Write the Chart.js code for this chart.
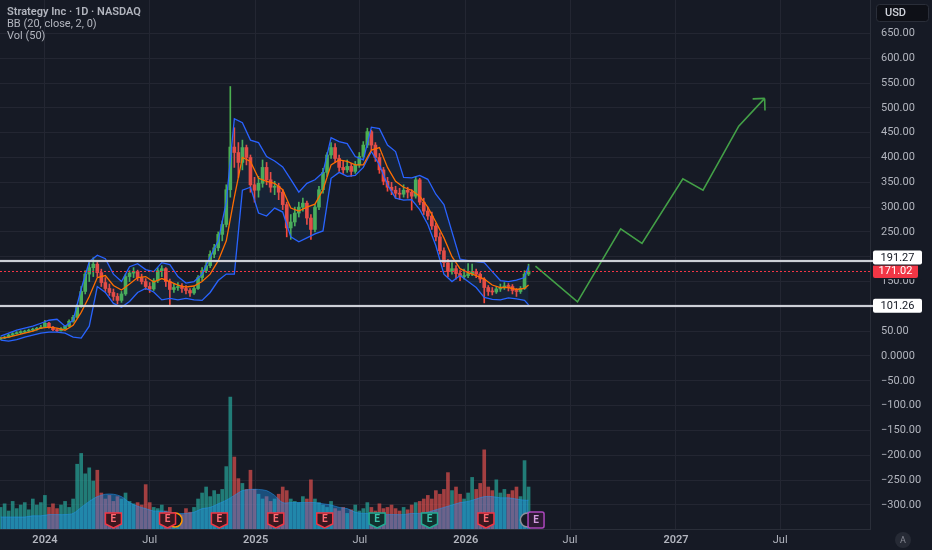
<!DOCTYPE html>
<html><head><meta charset="utf-8">
<script src="https://cdn.jsdelivr.net/npm/chart.js@4.4.1/dist/chart.umd.min.js"></script>
<style>html,body{margin:0;padding:0;background:#161a25;overflow:hidden}#wrap{width:932px;height:550px;position:relative}</style>
</head><body><div id="wrap"><canvas id="c"></canvas></div>
<script>
// ---------- DATA (weekly candles) ----------
const firstWeek = '2023-10-16';
const opens = [34,36,38,42,45,47,48,50,52,54,
56,58,66,58,53,51,55,60,70,78,
100,130,165,178,185,168,148,136,128,120,
112,125,160,167,170,158,150,140,135,152,
172,176,150,134,138,140,136,132,127,136,
158,172,182,205,218,245,265,335,421,410,
390,420,400,345,334,348,380,355,340,342,
330,305,258,270,288,300,308,278,255,300,
335,370,405,420,398,380,375,382,372,385,
402,425,452,425,400,375,352,340,334,328,
326,334,330,322,355,310,292,282,262,240,
212,188,170,176,166,160,162,166,170,165,
155,138,130,129,135,138,141,140,132,130,
136,165];
const highs = [38,40,44,47,49,51,52,54,56,58,
62,72,68,60,55,57,62,73,82,104,
140,172,190,198,190,175,158,145,135,126,
130,165,172,178,173,165,156,148,156,178,
182,178,155,145,148,146,142,136,140,162,
178,190,212,225,250,272,345,543,460,430,
435,425,405,360,362,395,390,370,352,348,
335,310,285,300,310,318,312,285,305,342,
378,410,430,428,405,392,395,388,392,410,
432,459,455,430,408,380,360,350,342,338,
345,340,335,362,358,318,300,290,268,248,
218,195,188,182,172,175,186,185,175,168,
158,142,138,140,145,148,146,144,136,140,
172,185];
const lows = [33,35,37,41,44,45,47,48,50,52,
55,57,56,51,49,50,54,59,68,76,
98,125,150,160,160,140,130,122,112,105,
108,122,150,158,152,145,134,128,132,148,
160,140,102,128,132,128,125,120,124,134,
152,168,178,198,212,232,260,320,380,360,
375,385,330,310,320,340,345,330,325,315,
295,240,235,262,280,292,265,235,250,295,
328,362,398,390,372,368,370,362,368,380,
398,420,415,392,368,345,332,325,318,315,
320,318,294,318,305,285,275,255,232,205,
180,160,165,155,152,155,158,162,158,148,
107,122,123,126,130,134,131,125,120,126,
134,162];
const closes = [36,38,42,45,47,48,50,52,54,56,
58,66,58,53,51,55,60,70,78,100,
130,165,178,185,168,148,136,128,120,112,
125,160,167,170,158,150,140,135,152,172,
176,150,134,138,140,136,132,127,136,158,
172,182,205,218,245,265,335,421,410,390,
420,400,345,334,348,380,355,340,342,330,
305,258,270,288,300,308,278,255,300,335,
370,405,420,398,380,375,382,372,385,402,
425,452,425,400,375,352,340,334,328,326,
334,330,322,355,310,292,282,262,240,212,
188,170,176,166,160,162,166,170,165,155,
138,130,129,135,138,141,140,132,130,136,
165,171.02];
const volumes = [18,21,15,23,17,20,22,16,25,20,
22,28,18,21,17,20,23,18,25,54,
63,46,51,40,49,30,25,28,23,27,
25,30,23,21,22,20,37,22,18,17,
20,15,18,13,12,12,17,14,18,25,
30,35,27,32,29,33,52,110,60,42,
38,33,49,33,29,25,27,23,25,29,
35,32,25,23,22,27,25,41,25,22,
20,18,23,17,15,18,13,16,20,15,
17,22,18,15,21,17,18,20,17,15,
18,16,20,22,23,25,28,25,32,29,
33,47,32,35,29,25,30,43,33,38,
66,35,32,41,30,33,29,32,35,27,
57,35];
// Bollinger Bands (20, close, 2) sampled at these week numbers
const bbWeeks = [0,2,4,6,8,10,12,14,16,18,20,22,24,26,28,30,32,34,36,38,40,42,44,46,48,50,52,54,56,58,60,62,64,66,68,70,72,74,76,78,80,82,84,86,88,90,92,94,96,98,100,102,104,106,108,110,112,114,116,118,120,122,124,126,128,130,131];
const bbUpper = [40,46,52,56,60,66,72,74,60,72,
135,190,203,196,165,150,180,186,174,170,
188,184,160,147,150,165,200,232,310,478,
470,435,430,402,393,381,356,330,348,355,
370,440,432,428,402,395,461,458,425,412,
360,359,364,356,326,305,250,195,192,190,
188,170,152,150,153,158,182];
const bbLower = [32,30,33,38,42,46,48,48,46,38,
36,60,140,128,106,98,110,128,136,129,
113,116,113,116,113,112,128,152,165,165,
334,340,288,282,298,290,240,230,238,246,
252,358,370,362,364,380,412,385,345,318,
314,315,295,265,222,165,150,162,150,138,
118,114,113,117,115,112,103];
const bbBasis = [36,38,42,46,50,56,58,56,52,62,
88,120,158,162,142,133,145,158,160,149,
156,150,143,139,141,150,165,192,232,320,
400,392,358,352,348,335,298,292,300,306,
335,385,395,392,385,385,415,420,380,352,
340,334,322,300,270,238,200,176,168,162,
155,143,138,138,134,136,143];
const volMA = [10,10,10,10,11,11,12,12,12,13,
18,23,27,29,29,27,22,19,17,15,
15,14,13,13,14,17,18,21,24,28,
32,33,33,32,28,22,22,22,22,22,
21,20,18,17,14,13,13,12,12,12,
12,13,13,14,16,18,20,22,23,25,
27,27,26,26,25,24,24];
// Horizontal levels and last price
const levels = [191.27, 101.26];
const lastPrice = 171.02;
// Projection drawing (days since 2024-01-01) and its prices
const projDays = [852, 925, 1000, 1037, 1108, 1143, 1205, 1250];
const projVals = [181, 109, 256, 227, 357, 334, 463, 519];
// Earnings events (days since 2024-01-01)
const eventDays = [119, 213, 303, 401, 486, 577, 668, 766, 853];
const eventKinds = ['miss','miss','miss','miss','miss','beat','beat','miss','next'];
const otherEventDays = [226, 838];
const otherEventColors = ['#ff9800', '#8d909a'];
// Axis ticks
const tickDates = ['2024-01-01','2024-07-01','2025-01-01','2025-07-01','2026-01-01','2026-07-01','2027-01-01','2027-07-01'];
const tickLabels = ['2024','Jul','2025','Jul','2026','Jul','2027','Jul'];
const priceTicks = [-300,-250,-200,-150,-100,-50,0,50,100,150,200,250,300,350,400,450,500,550,600,650];
const viewStart = '2023-10-15', viewEnd = '2027-12-04';
const priceMin = -348.6, priceMax = 717.3, volMax = 441;

// ---------- helpers ----------
function dayOf(s){ return Math.round((Date.parse(s+'T00:00:00Z') - Date.parse('2024-01-01T00:00:00Z'))/86400000); }
const F = 'Roboto, "Noto Sans", "Liberation Sans", sans-serif';
const BG = '#161a25';
const UP = '#4caf50', DOWN = '#f4473a';
const weekDays = opens.map((_, i) => dayOf(firstWeek) + 7*i);
const isUp = closes.map((c,i) => c >= opens[i]);
const tickDays = tickDates.map(dayOf);

const datasets = [
  {type:'line', label:'projection', data: projDays.map((d,i)=>({x:d,y:projVals[i]})), borderColor:'#43a047', borderWidth:1.6, pointRadius:0, fill:false, tension:0, order:0},
  {type:'line', label:'basis', data: bbWeeks.map((w,i)=>({x:weekDays[w], y:bbBasis[i]})), borderColor:'#ff6d00', borderWidth:1.3, pointRadius:0, fill:false, tension:0, order:1},
  {type:'line', label:'upper', data: bbWeeks.map((w,i)=>({x:weekDays[w], y:bbUpper[i]})), borderColor:'#2962ff', borderWidth:1.3, pointRadius:0, fill:'+1', backgroundColor:'rgba(33,150,243,0.08)', tension:0, order:2},
  {type:'line', label:'lower', data: bbWeeks.map((w,i)=>({x:weekDays[w], y:bbLower[i]})), borderColor:'#2962ff', borderWidth:1.3, pointRadius:0, fill:false, tension:0, order:3},
  {type:'bar', label:'bodies', data: weekDays.map((d,i)=>({x:d, y:[opens[i], closes[i]]})), backgroundColor: isUp.map(u=>u?UP:DOWN), barThickness:3, minBarLength:1, grouped:false, order:4},
  {type:'bar', label:'wicks', data: weekDays.map((d,i)=>({x:d, y:[lows[i], highs[i]]})), backgroundColor: isUp.map(u=>u?UP:DOWN), barThickness:1, grouped:false, order:5},
  {type:'line', label:'volMA', yAxisID:'vol', data: bbWeeks.map((w,i)=>({x:weekDays[w], y:volMA[i]})), borderColor:'rgba(33,150,243,0.5)', borderWidth:1, backgroundColor:'rgba(33,150,243,0.42)', fill:'origin', pointRadius:0, tension:0.3, order:6},
  {type:'bar', label:'vol', yAxisID:'vol', data: weekDays.map((d,i)=>({x:d, y:volumes[i]})), backgroundColor: isUp.map(u=>u?'rgba(38,166,154,0.7)':'rgba(239,83,80,0.65)'), barThickness:3, grouped:false, order:7}
];

function shieldPath(ctx, x, y){
  ctx.beginPath();
  ctx.moveTo(x-8, y-7);
  ctx.lineTo(x+8, y-7);
  ctx.lineTo(x+8, y+4);
  ctx.lineTo(x, y+8);
  ctx.lineTo(x-8, y+4);
  ctx.closePath();
}

const deco = {
  id:'deco',
  beforeDraw(chart){
    const ctx = chart.ctx; ctx.save(); ctx.fillStyle = BG; ctx.fillRect(0,0,chart.width,chart.height); ctx.restore();
  },
  afterDraw(chart){
    const ctx = chart.ctx, ca = chart.chartArea, ys = chart.scales.y, xs = chart.scales.x;
    ctx.save();
    // last price dotted line
    const lp = ys.getPixelForValue(lastPrice);
    ctx.strokeStyle = '#f23645'; ctx.lineWidth = 1; ctx.setLineDash([2,2]);
    ctx.beginPath(); ctx.moveTo(ca.left, Math.round(lp)+0.5); ctx.lineTo(ca.right, Math.round(lp)+0.5); ctx.stroke();
    ctx.setLineDash([]);
    // level lines
    levels.forEach(l => {
      const py = Math.round(ys.getPixelForValue(l));
      ctx.strokeStyle = 'rgba(120,123,134,0.8)'; ctx.lineWidth = 2.6;
      ctx.beginPath(); ctx.moveTo(ca.left, py); ctx.lineTo(ca.right+4, py); ctx.stroke();
      ctx.strokeStyle = '#f0f3fa'; ctx.lineWidth = 1.4;
      ctx.beginPath(); ctx.moveTo(ca.left, py); ctx.lineTo(ca.right+4, py); ctx.stroke();
    });
    // axis price labels
    const bx = ca.right + 3, bw = 49, bh = 14;
    const lpY = lp;
    const boxes = [
      {v:lastPrice, y:lpY, fill:'#f23645', txt:'#ffffff', w:bw-4},
      ...levels.map(l=>({v:l, y:ys.getPixelForValue(l), fill:'#ffffff', txt:'#131722', w:bw}))
    ];
    boxes.forEach(b => {
      if (b.fill === '#ffffff' && Math.abs(b.y - lpY) < bh) { b.y = b.y < lpY ? lpY - bh + 0.5 : lpY + bh; }
    });
    ctx.font = '11px ' + F; ctx.textBaseline = 'middle'; ctx.textAlign = 'center';
    boxes.forEach(b => {
      ctx.fillStyle = BG; ctx.fillRect(bx, b.y - bh/2 - 1, bw, bh + 2);
      ctx.fillStyle = b.fill;
      ctx.beginPath(); ctx.roundRect(bx, b.y - bh/2, b.w, bh, 2); ctx.fill();
      ctx.fillStyle = b.txt; ctx.fillText(b.v.toFixed(2), bx + b.w/2, b.y + 0.5);
    });
    // projection arrowhead
    const pm = chart.getDatasetMeta(0).data;
    const p1 = pm[pm.length-2], p2 = pm[pm.length-1];
    const ang = Math.atan2(p1.y - p2.y, p1.x - p2.x);
    ctx.strokeStyle = '#43a047'; ctx.lineWidth = 1.6;
    [0.78, -0.78].forEach(da => {
      ctx.beginPath(); ctx.moveTo(p2.x, p2.y);
      ctx.lineTo(p2.x + 12*Math.cos(ang+da), p2.y + 12*Math.sin(ang+da)); ctx.stroke();
    });
    // other events (circles)
    const ey = ca.bottom - 9;
    otherEventDays.forEach((d,i) => {
      const x = xs.getPixelForValue(d);
      ctx.strokeStyle = otherEventColors[i]; ctx.lineWidth = 1.5; ctx.fillStyle = BG;
      ctx.beginPath(); ctx.arc(x, ey, 7, 0, Math.PI*2); ctx.fill(); ctx.stroke();
    });
    // earnings markers
    eventDays.forEach((d,i) => {
      const x = xs.getPixelForValue(d), k = eventKinds[i];
      let stroke, fill, tc;
      if (k === 'miss') { stroke = '#f23645'; fill = '#3a1820'; tc = '#ff6b74'; }
      else if (k === 'beat') { stroke = '#22ab94'; fill = '#11302d'; tc = '#3cc2ab'; }
      else { stroke = '#ab47bc'; fill = '#2c1a33'; tc = '#d39be0'; }
      ctx.lineWidth = 1.5; ctx.strokeStyle = stroke; ctx.fillStyle = fill;
      if (k === 'next') { ctx.beginPath(); ctx.roundRect(x-8, ey-8, 16, 16, 2); }
      else shieldPath(ctx, x, ey);
      ctx.fill(); ctx.stroke();
      ctx.fillStyle = tc; ctx.font = 'bold 10px ' + F; ctx.textAlign = 'center'; ctx.textBaseline = 'middle';
      ctx.fillText('E', x, ey - (k==='next'?0:1));
    });
    // legend text
    ctx.textAlign = 'left'; ctx.textBaseline = 'middle'; ctx.fillStyle = '#b2b5be';
    ctx.font = '600 11px ' + F; ctx.fillText('Strategy Inc \u00b7 1D \u00b7 NASDAQ', 7, 12.5);
    ctx.font = '400 11px ' + F; ctx.fillText('BB (20, close, 2, 0)', 7, 24.5);
    ctx.fillText('Vol (50)', 7, 36.5);
    // USD box
    ctx.fillStyle = '#0e1017'; ctx.strokeStyle = '#2a2e39'; ctx.lineWidth = 1;
    ctx.beginPath(); ctx.roundRect(876.5, 4.5, 52, 17, 3); ctx.fill(); ctx.stroke();
    ctx.fillStyle = '#d1d4dc'; ctx.font = '500 11px ' + F; ctx.fillText('USD', 885, 13.5);
    // A circle
    ctx.fillStyle = '#262a35'; ctx.beginPath(); ctx.arc(903, 540, 8, 0, Math.PI*2); ctx.fill();
    ctx.fillStyle = '#868993'; ctx.font = '9px ' + F; ctx.textAlign = 'center'; ctx.fillText('A', 903, 540.5);
    ctx.restore();
  }
};

new Chart(document.getElementById('c'), {
  type:'bar',
  data:{datasets},
  options:{
    responsive:true, maintainAspectRatio:false, animation:false,
    layout:{padding:0},
    plugins:{legend:{display:false}, tooltip:{enabled:false}},
    scales:{
      x:{type:'linear', min:dayOf(viewStart), max:dayOf(viewEnd), offset:false,
        afterBuildTicks:a=>{a.ticks = tickDays.map(v=>({value:v}));},
        afterFit:a=>{a.height = 21; a.paddingLeft = 0; a.paddingRight = 0; a.paddingTop = 0; a.paddingBottom = 0;},
        grid:{color:'#232632', drawTicks:false, offset:false},
        border:{color:'#2a2e39'},
        ticks:{autoSkip:false, maxRotation:0, padding:5, color:'#b2b5be',
          callback:(v,i)=>tickLabels[i],
          font:(c)=>({family:F, size:11, weight: /^\d{4}$/.test(tickLabels[c.index]) ? '600' : '400'})}
      },
      y:{type:'linear', position:'right', min:priceMin, max:priceMax, beginAtZero:false,
        afterBuildTicks:a=>{a.ticks = priceTicks.map(v=>({value:v}));},
        afterFit:a=>{a.width = 62; a.paddingTop = 0; a.paddingBottom = 0; a.paddingLeft = 0; a.paddingRight = 0;},
        grid:{color:'#232632', drawTicks:false},
        border:{color:'#2a2e39'},
        ticks:{padding:11, color:'#b2b5be', font:{family:F, size:11},
          callback:v => v===0 ? '0.0000' : (v<0 ? '\u2212'+Math.abs(v).toFixed(2) : v.toFixed(2))}
      },
      vol:{type:'linear', display:false, min:0, max:volMax, beginAtZero:true, grid:{display:false}}
    }
  },
  plugins:[deco]
});
</script>
</body></html>
